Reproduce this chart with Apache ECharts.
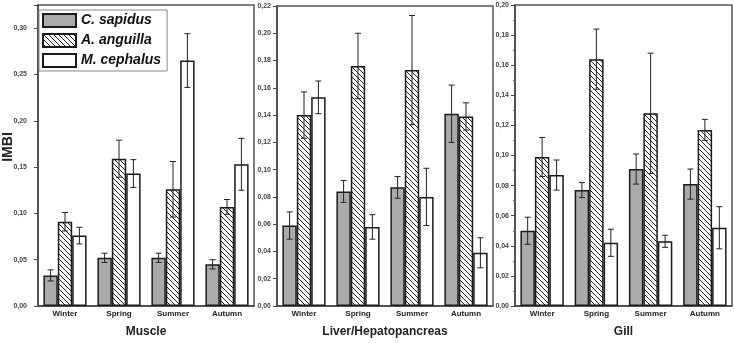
<!DOCTYPE html>
<html>
<head>
<meta charset="utf-8">
<script src="https://cdn.jsdelivr.net/npm/echarts@6/dist/echarts.min.js"></script>
<style>
    html, body { margin: 0; padding: 0; background: #fff; }
    #chart { width: 735px; height: 343px; }
</style>
</head>
<body>
<div id="chart"></div>
<script>
    var categories = ['Winter', 'Spring', 'Summer', 'Autumn'];
    var speciesNames = ['C. sapidus', 'A. anguilla', 'M. cephalus'];
    var panelNames = ['Muscle', 'Liver/Hepatopancreas', 'Gill'];

    // Muscle
    var muscleCS = [0.033, 0.052, 0.052, 0.045];
    var muscleCSErr = [0.006, 0.005, 0.005, 0.005];
    var muscleAA = [0.091, 0.159, 0.126, 0.107];
    var muscleAAErr = [0.010, 0.020, 0.030, 0.008];
    var muscleMC = [0.076, 0.143, 0.265, 0.153];
    var muscleMCErr = [0.009, 0.015, 0.029, 0.028];

    // Liver/Hepatopancreas
    var liverCS = [0.059, 0.084, 0.087, 0.141];
    var liverCSErr = [0.010, 0.008, 0.008, 0.021];
    var liverAA = [0.140, 0.176, 0.173, 0.139];
    var liverAAErr = [0.017, 0.024, 0.040, 0.010];
    var liverMC = [0.153, 0.058, 0.080, 0.039];
    var liverMCErr = [0.012, 0.009, 0.021, 0.011];

    // Gill
    var gillCS = [0.050, 0.077, 0.091, 0.081];
    var gillCSErr = [0.009, 0.005, 0.010, 0.010];
    var gillAA = [0.099, 0.164, 0.128, 0.117];
    var gillAAErr = [0.013, 0.020, 0.040, 0.007];
    var gillMC = [0.087, 0.042, 0.043, 0.052];
    var gillMCErr = [0.010, 0.009, 0.004, 0.014];

    // y axis ranges per panel
    var yMax = [0.325, 0.22, 0.20];
    var yInterval = [0.05, 0.02, 0.02];

    var panelMeans = [
        [muscleCS, muscleAA, muscleMC],
        [liverCS, liverAA, liverMC],
        [gillCS, gillAA, gillMC]
    ];
    var panelErrs = [
        [muscleCSErr, muscleAAErr, muscleMCErr],
        [liverCSErr, liverAAErr, liverMCErr],
        [gillCSErr, gillAAErr, gillMCErr]
    ];

    // 斜线填充
    function makeHatch() {
        var c = document.createElement('canvas');
        c.width = 5;
        c.height = 5;
        var ctx = c.getContext('2d');
        ctx.fillStyle = '#fff';
        ctx.fillRect(0, 0, 5, 5);
        ctx.strokeStyle = '#222';
        ctx.lineWidth = 1;
        ctx.beginPath();
        ctx.moveTo(-1, -1); ctx.lineTo(6, 6);
        ctx.moveTo(-1, 4); ctx.lineTo(1, 6);
        ctx.moveTo(4, -1); ctx.lineTo(6, 1);
        ctx.stroke();
        return c;
    }
    var hatch = makeHatch();
    var fills = ['#aaaaaa', { image: hatch, repeat: 'repeat' }, '#ffffff'];

    var grids = [
        { left: 38, right: 481, top: 5, bottom: 34 },
        { left: 277, right: 242, top: 6, bottom: 35 },
        { left: 515, right: 3, top: 5, bottom: 35 }
    ];
    var labelMargins = [11, 6, 6];

    function commaFmt(v, step) {
        var r = Math.round(v / step);
        if (Math.abs(r * step - v) > 1e-6) return '';
        return v.toFixed(2).replace('.', ',');
    }

    function renderErr(params, api) {
        var cat = api.value(0), k = api.value(1);
        var lo = api.value(2), hi = api.value(3);
        var band = api.size([1, 0])[0];
        var bw = band * 0.8 / 3;
        var cx = api.coord([cat, 0])[0] + (k - 1) * bw;
        var yLo = api.coord([cat, lo])[1];
        var yHi = api.coord([cat, hi])[1];
        var cap = 3;
        var st = { stroke: '#222', lineWidth: 1 };
        return {
            type: 'group',
            children: [
                { type: 'line', shape: { x1: cx, y1: yLo, x2: cx, y2: yHi }, style: st },
                { type: 'line', shape: { x1: cx - cap, y1: yHi, x2: cx + cap, y2: yHi }, style: st },
                { type: 'line', shape: { x1: cx - cap, y1: yLo, x2: cx + cap, y2: yLo }, style: st }
            ]
        };
    }

    var gridOpts = [], xAxes = [], yAxes = [], series = [];
    for (var p = 0; p < 3; p++) {
        gridOpts.push({
            left: grids[p].left, right: grids[p].right, top: grids[p].top, bottom: grids[p].bottom,
            show: true, borderColor: '#555', borderWidth: 1.5, backgroundColor: 'transparent'
        });
        xAxes.push({
            type: 'category', gridIndex: p, data: categories,
            name: panelNames[p], nameLocation: 'middle', nameGap: 20,
            nameTextStyle: { fontFamily: 'Liberation Sans', fontWeight: 'bold', fontSize: 12, color: '#222' },
            axisLine: { lineStyle: { color: '#444', width: 1.5 } },
            axisTick: { alignWithLabel: true, length: 3, lineStyle: { color: '#444' } },
            axisLabel: { margin: 4, fontFamily: 'Liberation Sans', fontWeight: 'bold', fontSize: 8, color: '#222' }
        });
        (function(step) {
            yAxes.push({
                type: 'value', gridIndex: p, min: 0, max: yMax[p], interval: yInterval[p],
                axisLine: { show: true, lineStyle: { color: '#444', width: 1.5 } },
                axisTick: { show: true, length: 4, lineStyle: { color: '#444' } },
                minorTick: { show: p === 2, splitNumber: 2, length: 2, lineStyle: { color: '#666' } },
                splitLine: { show: false },
                axisLabel: {
                    margin: labelMargins[p], fontFamily: 'Liberation Sans', fontWeight: 'bold', fontSize: 7, color: '#444',
                    formatter: function(v) { return commaFmt(v, step); }
                }
            });
        })(yInterval[p]);

        var errData = [];
        for (var s = 0; s < 3; s++) {
            series.push({
                type: 'bar', name: speciesNames[s], xAxisIndex: p, yAxisIndex: p,
                data: panelMeans[p][s],
                barGap: '0%', barCategoryGap: '20%',
                itemStyle: { color: fills[s], borderColor: '#1a1a1a', borderWidth: 1.5 },
                emphasis: { disabled: true },
                animation: false
            });
            for (var c = 0; c < categories.length; c++) {
                var m = panelMeans[p][s][c], e = panelErrs[p][s][c];
                errData.push([c, s, m - e, m + e]);
            }
        }
        series.push({
            type: 'custom', xAxisIndex: p, yAxisIndex: p,
            renderItem: renderErr, data: errData,
            encode: { x: 0, y: [2, 3] }, z: 10, silent: true, animation: false
        });
    }

    var myChart = echarts.init(document.getElementById('chart'));
    myChart.setOption({
        backgroundColor: '#fff',
        animation: false,
        legend: {
            data: speciesNames,
            icon: 'rect',
            orient: 'vertical', left: 39, top: 10,
            padding: [3, 6, 3, 3], itemGap: 5,
            itemWidth: 33, itemHeight: 13,
            backgroundColor: '#fff', borderColor: '#888', borderWidth: 1,
            textStyle: { fontFamily: 'Liberation Sans', fontStyle: 'italic', fontWeight: 'bold', fontSize: 14, lineHeight: 14, color: '#111' }
        },
        graphic: [{
            type: 'text', x: 8, y: 147, rotation: Math.PI / 2,
            style: { text: 'IMBI', font: 'bold 14px "Liberation Sans"', fill: '#222', textAlign: 'center', textVerticalAlign: 'middle' }
        }],
        grid: gridOpts,
        xAxis: xAxes,
        yAxis: yAxes,
        series: series
    });
</script>
</body>
</html>
